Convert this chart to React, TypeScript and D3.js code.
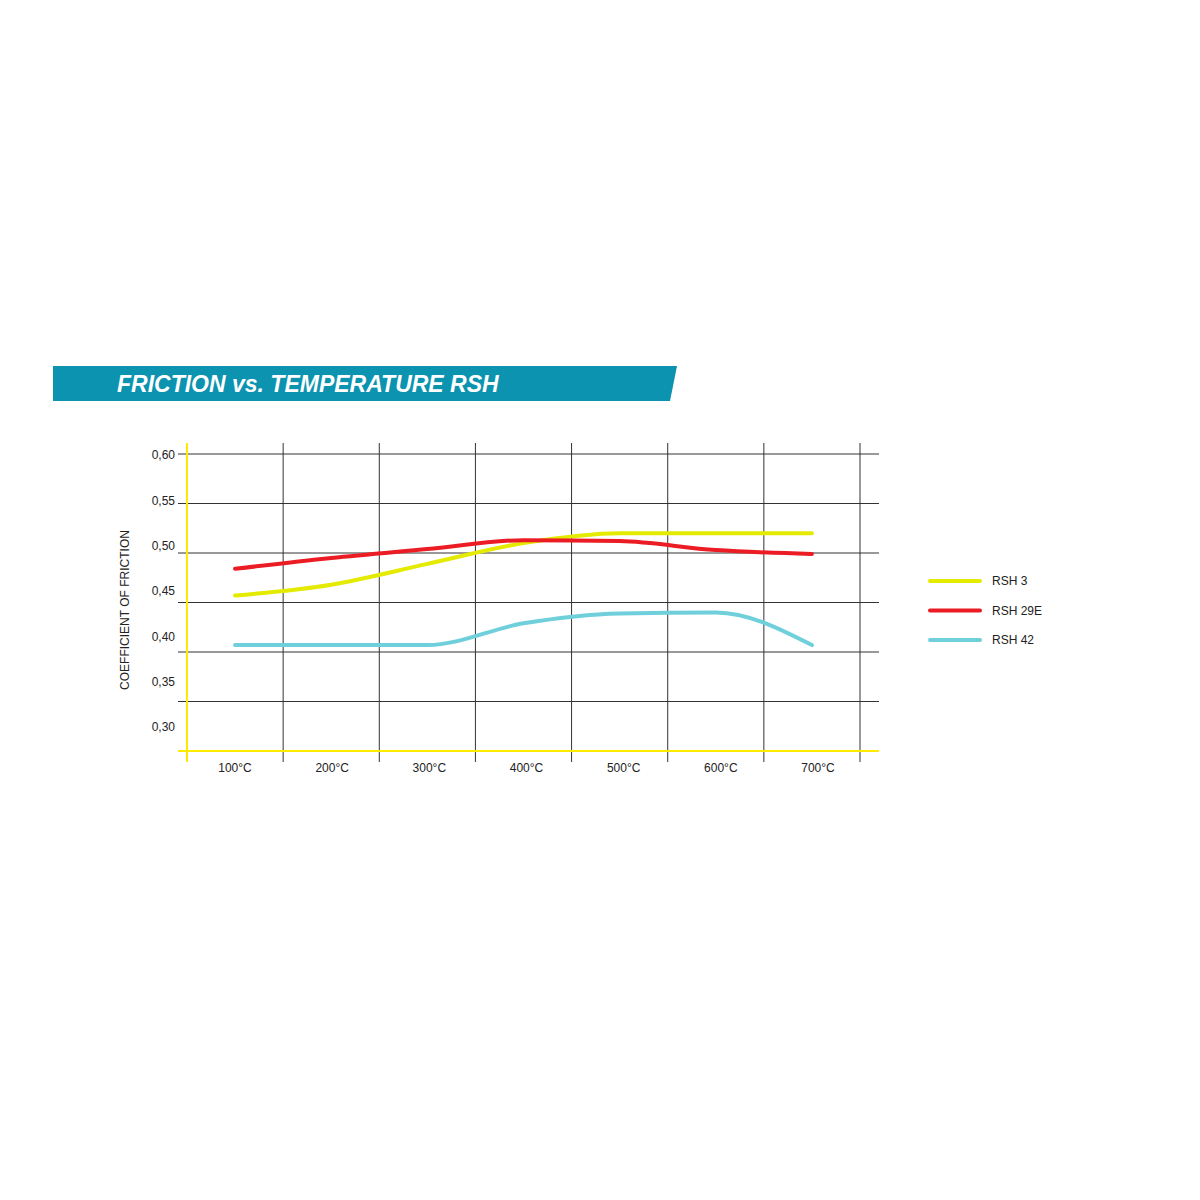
import { useEffect, useRef } from 'react';
import * as d3 from 'd3';

const temperatures = ['100°C', '200°C', '300°C', '400°C', '500°C', '600°C', '700°C'];
const yTicks = [0.3, 0.35, 0.4, 0.45, 0.5, 0.55, 0.6];

const rsh3 = [0.457, 0.468, 0.489, 0.510, 0.520, 0.520, 0.520];
const rsh29e = [0.484, 0.495, 0.504, 0.513, 0.512, 0.503, 0.499];
const rsh42 = [0.407, 0.407, 0.407, 0.429, 0.439, 0.440, 0.407];

const seriesNames = ['RSH 3', 'RSH 29E', 'RSH 42'];
const seriesColors = ['#e4ea00', '#ec1c24', '#6fcfdb'];

const FONT = 'Liberation Sans, Arial, sans-serif';

export default function App() {
  const svgRef = useRef<SVGSVGElement>(null);

  useEffect(() => {
    if (!svgRef.current) return;
    const svg = d3.select(svgRef.current);
    svg.selectAll('*').remove();

    // Title banner
    svg.append('path')
      .attr('d', 'M53,366 L677,366 L670,401 L53,401 Z')
      .attr('fill', '#0b93b0');
    svg.append('text')
      .attr('x', 117)
      .attr('y', 392)
      .attr('font-family', FONT)
      .attr('font-size', 23)
      .attr('font-weight', 'bold')
      .attr('font-style', 'italic')
      .attr('fill', '#fff')
      .text('FRICTION vs. TEMPERATURE RSH');

    const x = d3.scaleBand().domain(temperatures).range([187, 860]);
    const y = d3.scaleLinear().domain([0.3, 0.6]).range([751, 454]);
    // tick labels sit on their own spacing in the original
    const yLabel = d3.scaleLinear().domain([0.3, 0.6]).range([727, 455]);
    const xLabel = d3.scalePoint().domain(temperatures).range([235, 818]);

    const grid = svg.append('g');

    // horizontal grid
    grid.selectAll('line.h')
      .data(yTicks.filter(t => t > 0.3))
      .join('line')
      .attr('x1', 178)
      .attr('x2', 879)
      .attr('y1', d => y(d))
      .attr('y2', d => y(d))
      .attr('stroke', '#333')
      .attr('stroke-width', 1);

    // vertical grid
    const edges = temperatures.map(t => (x(t) || 0) + x.bandwidth());
    grid.selectAll('line.v')
      .data(edges)
      .join('line')
      .attr('x1', d => d)
      .attr('x2', d => d)
      .attr('y1', 443)
      .attr('y2', 762)
      .attr('stroke', '#333')
      .attr('stroke-width', 1);

    // yellow axes
    svg.append('line')
      .attr('x1', 178).attr('x2', 879)
      .attr('y1', y(0.3)).attr('y2', y(0.3))
      .attr('stroke', '#ffeb00').attr('stroke-width', 2);
    svg.append('line')
      .attr('x1', x.range()[0]).attr('x2', x.range()[0])
      .attr('y1', 443).attr('y2', 762)
      .attr('stroke', '#ffeb00').attr('stroke-width', 2);

    // y labels
    svg.append('g')
      .selectAll('text')
      .data(yTicks)
      .join('text')
      .attr('x', 175)
      .attr('y', d => yLabel(d))
      .attr('dy', '0.35em')
      .attr('text-anchor', 'end')
      .attr('font-family', FONT)
      .attr('font-size', 12)
      .attr('fill', '#222')
      .text(d => d.toFixed(2).replace('.', ','));

    // x labels
    svg.append('g')
      .selectAll('text')
      .data(temperatures)
      .join('text')
      .attr('x', d => xLabel(d) || 0)
      .attr('y', 768)
      .attr('dy', '0.35em')
      .attr('text-anchor', 'middle')
      .attr('font-family', FONT)
      .attr('font-size', 12)
      .attr('fill', '#222')
      .text(d => d);

    // axis title
    svg.append('text')
      .attr('transform', 'translate(125,610) rotate(-90)')
      .attr('dy', '0.35em')
      .attr('text-anchor', 'middle')
      .attr('font-family', FONT)
      .attr('font-size', 12)
      .attr('fill', '#222')
      .text('COEFFICIENT OF FRICTION');

    // series
    const line = d3.line<number>()
      .x((_, i) => (x(temperatures[i]) || 0) + x.bandwidth() / 2)
      .y(d => y(d))
      .curve(d3.curveMonotoneX);

    [rsh3, rsh29e, rsh42].forEach((s, i) => {
      svg.append('path')
        .datum(s)
        .attr('d', line)
        .attr('fill', 'none')
        .attr('stroke', seriesColors[i])
        .attr('stroke-width', 4)
        .attr('stroke-linecap', 'round');
    });

    // legend
    const legend = svg.append('g');
    seriesNames.forEach((name, i) => {
      const ly = 581 + i * 29.5;
      legend.append('line')
        .attr('x1', 930).attr('x2', 980)
        .attr('y1', ly).attr('y2', ly)
        .attr('stroke', seriesColors[i])
        .attr('stroke-width', 4)
        .attr('stroke-linecap', 'round');
      legend.append('text')
        .attr('x', 992)
        .attr('y', ly)
        .attr('dy', '0.35em')
        .attr('font-family', FONT)
        .attr('font-size', 12)
        .attr('fill', '#222')
        .text(name);
    });
  }, []);

  return (
    <svg
      ref={svgRef}
      width={1200}
      height={1200}
      style={{ position: 'absolute', left: 0, top: 0, background: '#fff' }}
    />
  );
}
